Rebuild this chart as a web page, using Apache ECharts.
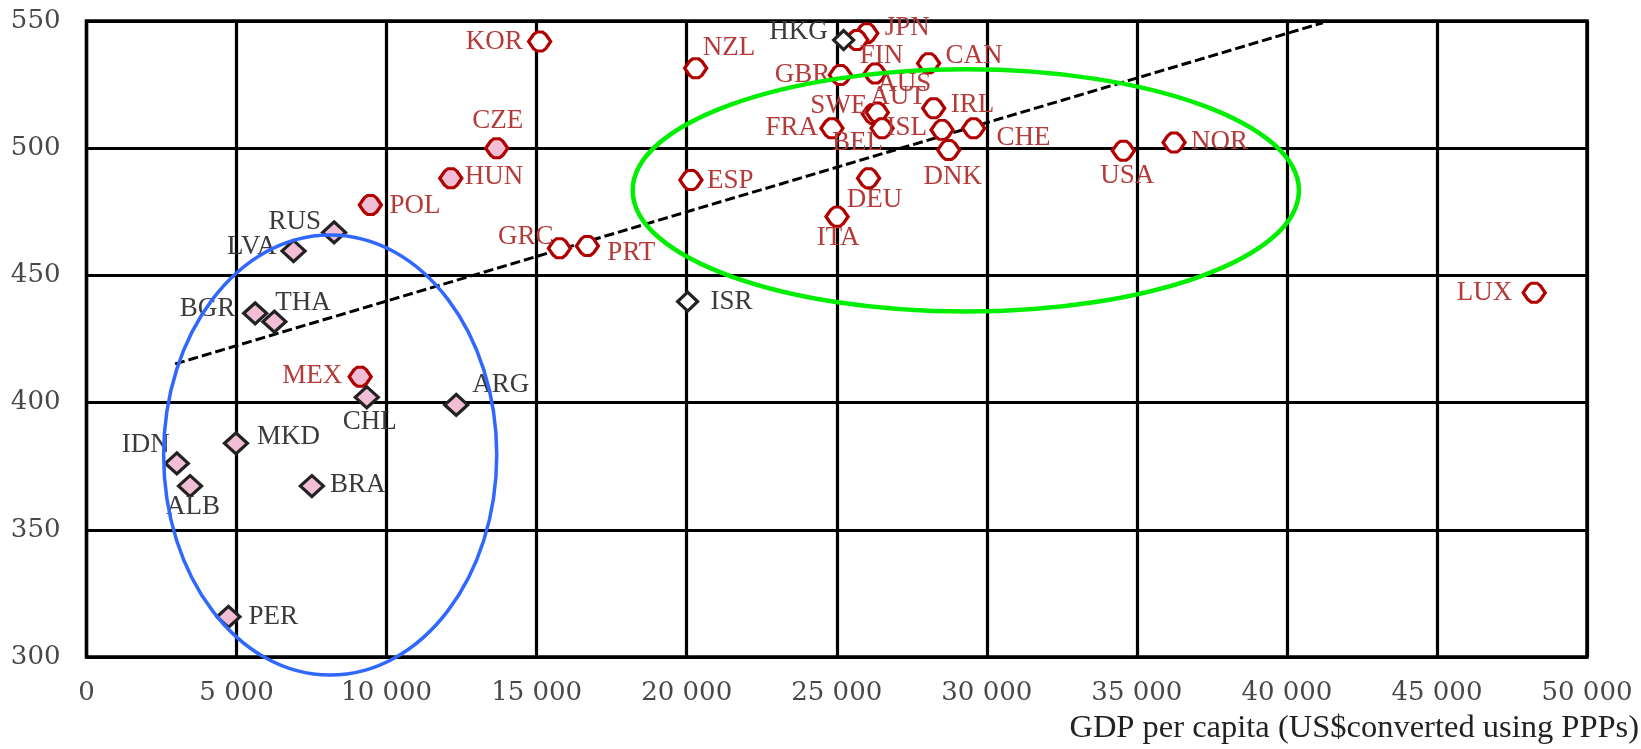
<!DOCTYPE html>
<html><head><meta charset="utf-8">
<script src="https://cdn.jsdelivr.net/npm/echarts@6/dist/echarts.min.js"></script>
<style>html,body{margin:0;padding:0;background:#fff}#c{width:1641px;height:749px}</style>
</head><body><div id="c"></div>
<script>
// ---- data ----
const countries = ['KOR','NZL','HKG','JPN','FIN','GBR','AUS','CAN','SWE','AUT','IRL','FRA','BEL','ISL','CHE','DNK','DEU','ITA','ESP','USA','NOR','LUX','CZE','HUN','POL','GRC','PRT','ISR','RUS','LVA','BGR','THA','MEX','CHL','ARG','MKD','IDN','ALB','BRA','PER'];
const gdp = [15100,20300,25230,26000,25670,25120,26280,28060,26220,26350,28230,24840,26510,28510,29560,28730,26060,25010,20140,34550,36240,48240,13670,12140,9460,15760,16690,20030,8250,6900,5620,6260,9120,9340,12320,4980,3010,3450,7510,4730];
const score = [541.9,531.4,542.5,545.2,542.5,528.8,529.4,533.4,513.4,514.0,515.7,507.8,507.8,507.2,507.8,499.3,488.2,473.1,487.5,499.0,502.2,443.2,500.0,488.2,477.7,460.7,461.6,439.7,466.9,459.6,435.1,431.8,410.2,402.1,399.1,384.0,376.1,367.2,367.2,315.8];
// o = OECD (white), op = OECD (pink), p = partner (pink), pw = partner (white)
const group = ['o','o','pw','o','o','o','o','o','o','o','o','o','o','o','o','o','o','o','o','o','o','o','op','op','op','o','o','pw','p','p','p','p','op','p','p','p','p','p','p','p'];
const trendX = [2950, 41200];
const trendY = [415.2, 549.3];
const xTicks = [0,5000,10000,15000,20000,25000,30000,35000,40000,45000,50000];
const yTicks = [300,350,400,450,500,550];
const xTitle = 'GDP per capita (US$converted using PPPs)';
// annotation ellipses in data units
const greenEllipse = {cx: 29300, cy: 483.4, rx: 11100, ry: 47.6};
const blueEllipse = {cx: 8120, cy: 379.4, rx: 5550, ry: 86.5};

// ---- label placement (align, dx, dy from marker centre) ----
const labelPos = {
  KOR:['right',-17,0], NZL:['left',7,-20], HKG:['right',-16,-8], JPN:['left',18,-5],
  FIN:['left',3,16], GBR:['right',-10,0], AUS:['left',2,10], CAN:['left',17,-7],
  SWE:['right',-6,-8], AUT:['left',-7,-16], IRL:['left',17,-3], FRA:['right',-14,0],
  BEL:['right',1,15], ISL:['right',-15,-2], CHE:['left',23,10], DNK:['center',4,27],
  DEU:['center',6,22], ITA:['center',1,21], ESP:['left',16,1], USA:['center',4,25],
  NOR:['left',17,-1], LUX:['right',-22,0], CZE:['center',1,-27], HUN:['left',14,-1],
  POL:['left',19,1], GRC:['right',-6,-11], PRT:['left',20,7], ISR:['left',23,0],
  RUS:['right',-13,-11], LVA:['right',-17,-4], BGR:['right',-20,-4], THA:['left',1,-19],
  MEX:['right',-18,-1], CHL:['center',3,25], ARG:['left',16,-20], MKD:['left',21,-6],
  IDN:['right',-7,-18], ALB:['center',3,21], BRA:['left',18,-1], PER:['left',20,0]
};

const RED = '#b00000', PINK = '#f2bed6', BLACK = '#222';
const OCT = 'path://M0,50 L22,13 L37,0 L63,0 L78,13 L100,50 L78,87 L63,100 L37,100 L22,87 Z';
const styles = {
  o:  {border: RED, fill: '#fff', text: '#b53a3a', symbol: OCT, size: [22,19]},
  op: {border: RED, fill: PINK, text: '#b53a3a', symbol: OCT, size: [22,19]},
  p:  {border: BLACK, fill: PINK, text: '#3a3a3a', symbol: 'diamond', size: [23,21]},
  pw: {border: BLACK, fill: '#fff', text: '#3a3a3a', symbol: 'diamond', size: [20,19]}
};
const FONT = 'Liberation Serif';

function seriesFor(g) {
  const st = styles[g];
  const data = [];
  countries.forEach((c, i) => {
    if (group[i] !== g) return;
    const lp = labelPos[c];
    data.push({
      value: [gdp[i], score[i]], name: c,
      label: {show: true, formatter: c, position: 'inside', align: lp[0], verticalAlign: 'middle',
        offset: [lp[1], lp[2]], color: st.text, fontFamily: FONT, fontSize: 27}
    });
  });
  return {
    type: 'scatter', data, symbol: st.symbol, symbolSize: st.size, z: 5,
    itemStyle: {color: st.fill, borderColor: st.border, borderWidth: 3.2, opacity: 1},
    emphasis: {disabled: true}
  };
}

const chart = echarts.init(document.getElementById('c'));
const axisLabelStyle = {fontFamily: 'DejaVu Serif', fontSize: 26, color: '#484848'};
chart.setOption({
  animation: false,
  grid: {left: 86.5, right: 54, top: 21, bottom: 92, show: true, borderColor: '#000', borderWidth: 3.5, backgroundColor: '#fff'},
  xAxis: {type: 'value', min: xTicks[0], max: xTicks[xTicks.length-1], interval: xTicks[1]-xTicks[0],
    axisLine: {show: false}, axisTick: {show: false},
    splitLine: {show: true, lineStyle: {color: '#000', width: 3.2}},
    axisLabel: Object.assign({margin: 23, formatter: v => v === 0 ? '0' : (v/1000) + ' 000'}, axisLabelStyle)},
  yAxis: {type: 'value', min: yTicks[0], max: yTicks[yTicks.length-1], interval: yTicks[1]-yTicks[0],
    axisLine: {show: false}, axisTick: {show: false},
    splitLine: {show: true, lineStyle: {color: '#000', width: 3.2}},
    axisLabel: Object.assign({margin: 26}, axisLabelStyle)},
  title: {text: xTitle, right: 2, top: 712, padding: 0, textStyle: {fontFamily: FONT, fontSize: 32.5, fontWeight: 'normal', color: '#222'}},
  series: [
    {type: 'line', data: trendX.map((x, i) => [x, trendY[i]]), symbol: 'none', z: 3,
      lineStyle: {color: '#000', width: 3, type: [10, 4]}},
    seriesFor('o'), seriesFor('op'), seriesFor('p'), seriesFor('pw')
  ]
});

function ellipseGraphic(e, color, width) {
  const c = chart.convertToPixel({gridIndex: 0}, [e.cx, e.cy]);
  const px = chart.convertToPixel({gridIndex: 0}, [e.cx + e.rx, e.cy]);
  const py = chart.convertToPixel({gridIndex: 0}, [e.cx, e.cy + e.ry]);
  return {type: 'ellipse', z: 10, silent: true,
    shape: {cx: c[0], cy: c[1], rx: Math.abs(px[0] - c[0]), ry: Math.abs(c[1] - py[1])},
    style: {fill: 'none', stroke: color, lineWidth: width}};
}
chart.setOption({graphic: [ellipseGraphic(greenEllipse, '#00ee00', 4.5), ellipseGraphic(blueEllipse, '#3068ff', 3.5)]});
</script></body></html>
